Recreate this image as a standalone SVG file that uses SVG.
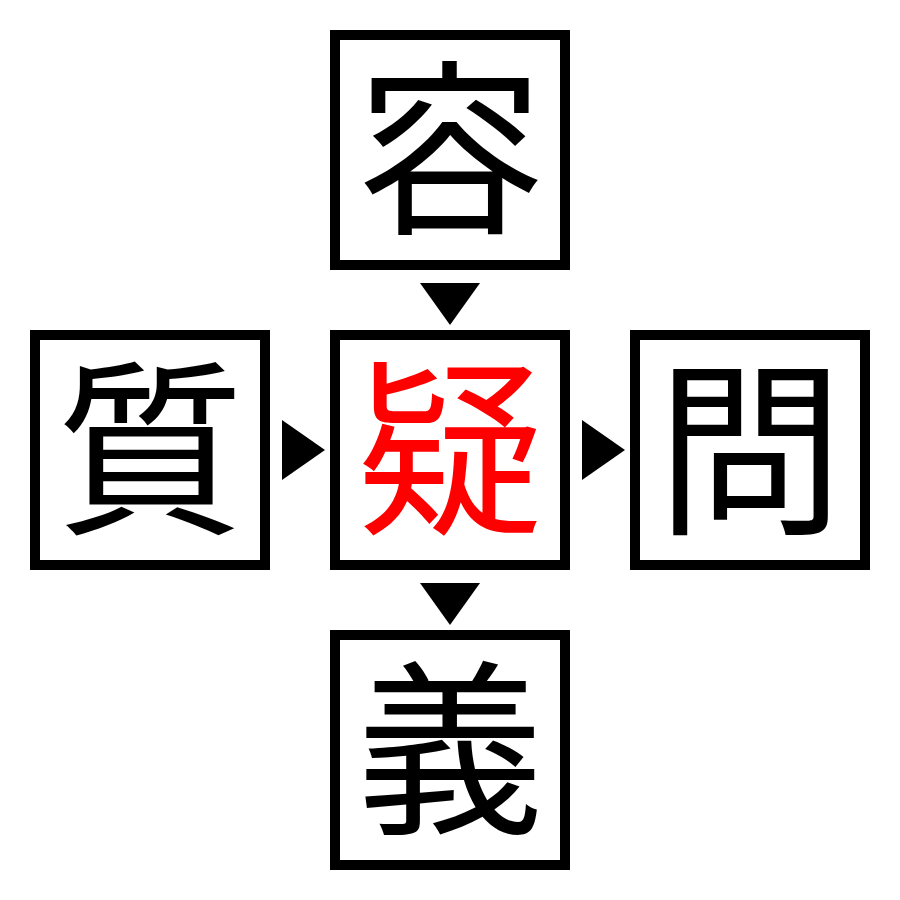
<svg xmlns="http://www.w3.org/2000/svg" width="900" height="900" viewBox="0 0 900 900">
<style>
.box{fill:#fff;stroke:#000;stroke-width:10}
.ch{font-family:"Noto Sans CJK JP","Noto Sans CJK SC",sans-serif;font-size:188px;text-anchor:middle;fill:#000}
.red{fill:#ff0000}
.arr{fill:#000}
</style>
<rect width="900" height="900" fill="#fff"/>
<g id="node-top"><rect class="box" x="335" y="35" width="230" height="230"/><text class="ch" x="450" y="219">容</text></g>
<g id="node-left"><rect class="box" x="35" y="335" width="230" height="230"/><text class="ch" x="150" y="519">質</text></g>
<g id="node-center"><rect class="box" x="335" y="335" width="230" height="230"/><text class="ch red" x="450" y="519">疑</text></g>
<g id="node-right"><rect class="box" x="635" y="335" width="230" height="230"/><text class="ch" x="750" y="519">問</text></g>
<g id="node-bottom"><rect class="box" x="335" y="635" width="230" height="230"/><text class="ch" x="450" y="819">義</text></g>
<g id="connectors">
<polygon class="arr" points="420,283 480,283 450,325"/>
<polygon class="arr" points="282,420 282,480 325,450"/>
<polygon class="arr" points="582,420 582,480 625,450"/>
<polygon class="arr" points="420,583 480,583 450,625"/>
</g>
</svg>
